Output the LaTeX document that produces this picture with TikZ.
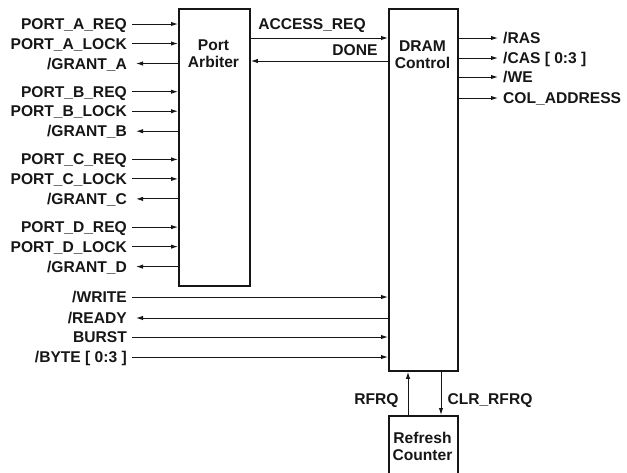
\documentclass[tikz,border=0pt]{standalone}
\usepackage{fontspec}
\setmainfont{Liberation Sans}
\usepackage{xcolor}
\usetikzlibrary{arrows.meta, positioning, calc}
\definecolor{inkcolor}{RGB}{22,22,22}
\tikzset{
    blockbox/.style={draw=inkcolor, line width=1.8pt, inner sep=0pt, anchor=north west},
    blocktitle/.style={font=\fontsize{15.6}{16.5}\selectfont\bfseries, text=inkcolor, align=center, inner sep=0pt},
    siglabel/.style={font=\fontsize{15.6}{17}\selectfont\bfseries, text=inkcolor, inner ysep=0pt, inner xsep=5pt, text height=11.1pt, text depth=0pt},
    sig/.style={draw=inkcolor, line width=1pt, -{Latex[length=7pt,width=4.4pt]}}
}

\begin{document}
\begin{tikzpicture}[x=1pt, y=-1pt]
    \clip (0,0) rectangle (627,472);
    % blocks
    \node[blockbox, minimum width=71pt, minimum height=277pt] (arbiter) at (178,8) {};
    \node[blockbox, minimum width=69pt, minimum height=362pt] (dram) at (388,8) {};
    \node[blockbox, minimum width=69pt, minimum height=70pt] (refresh) at (388,415) {};
    \node[blocktitle] (arbitertitle) at (213.5,53.5) {Port\\Arbiter};
    \node[blocktitle] (dramtitle) at (422.5,54.5) {DRAM\\Control};
    \node[blocktitle] (refreshtitle) at (422.5,446.5) {Refresh\\Counter};

    % port request / lock / grant signals
    \foreach \p [count=\i] in {A,B,C,D} {
        \pgfmathsetmacro{\py}{24+(\i-1)*67.7}
        \node[siglabel, anchor=east] (req\p) at (132,\py) {PORT\_\p\_REQ};
        \node[siglabel, anchor=east] (lock\p) at (132,\py+19.5) {PORT\_\p\_LOCK};
        \node[siglabel, anchor=east] (grant\p) at (132,\py+39.5) {/GRANT\_\p};
        \draw[sig] (req\p.east) -- (req\p.east -| arbiter.west);
        \draw[sig] (lock\p.east) -- (lock\p.east -| arbiter.west);
        \draw[sig, shorten >=4pt] (grant\p.east -| arbiter.west) -- (grant\p.east);
    }

    % arbiter <-> dram
    \draw[sig] ($(arbiter.north east)+(0,30)$) -- ($(dram.north west)+(0,30)$)
        node[siglabel, pos=0, anchor=south west, xshift=2pt, yshift=8.5pt] (accesslabel) {ACCESS\_REQ};
    \draw[sig] ($(dram.north west)+(0,53)$) -- ($(arbiter.north east)+(0,53)$)
        node[siglabel, pos=0, anchor=south east, xshift=-5pt, yshift=5.5pt] (donelabel) {DONE};

    % dram outputs
    \foreach \dy/\name [count=\i] in {30/{/RAS}, 50/{/CAS [ 0:3 ]}, 69/{/WE}, 90/{COL\_ADDRESS}} {
        \node[siglabel, anchor=west] (out\i) at (498,8+\dy) {\name};
        \draw[sig] (out\i.west -| dram.east) -- (out\i.west);
    }

    % host side signals
    \node[siglabel, anchor=east] (write) at (132,297) {/WRITE};
    \node[siglabel, anchor=east] (ready) at (132,318) {/READY};
    \node[siglabel, anchor=east] (burst) at (132,337) {BURST};
    \node[siglabel, anchor=east] (byte) at (132,357) {/BYTE [ 0:3 ]};
    \draw[sig] (write.east) -- (write.east -| dram.west);
    \draw[sig, shorten >=4pt] (ready.east -| dram.west) -- (ready.east);
    \draw[sig] (burst.east) -- (burst.east -| dram.west);
    \draw[sig] (byte.east) -- (byte.east -| dram.west);

    % refresh
    \draw[sig] ($(refresh.north west)+(20,0)$) -- ($(dram.south west)+(20,0)$)
        node[siglabel, pos=0.38, anchor=east, xshift=-4pt] (rfrqlabel) {RFRQ};
    \draw[sig] ($(dram.south west)+(53,0)$) -- ($(refresh.north west)+(53,0)$)
        node[siglabel, pos=0.62, anchor=west, xshift=1pt] (clrlabel) {CLR\_RFRQ};
\end{tikzpicture}
\end{document}
